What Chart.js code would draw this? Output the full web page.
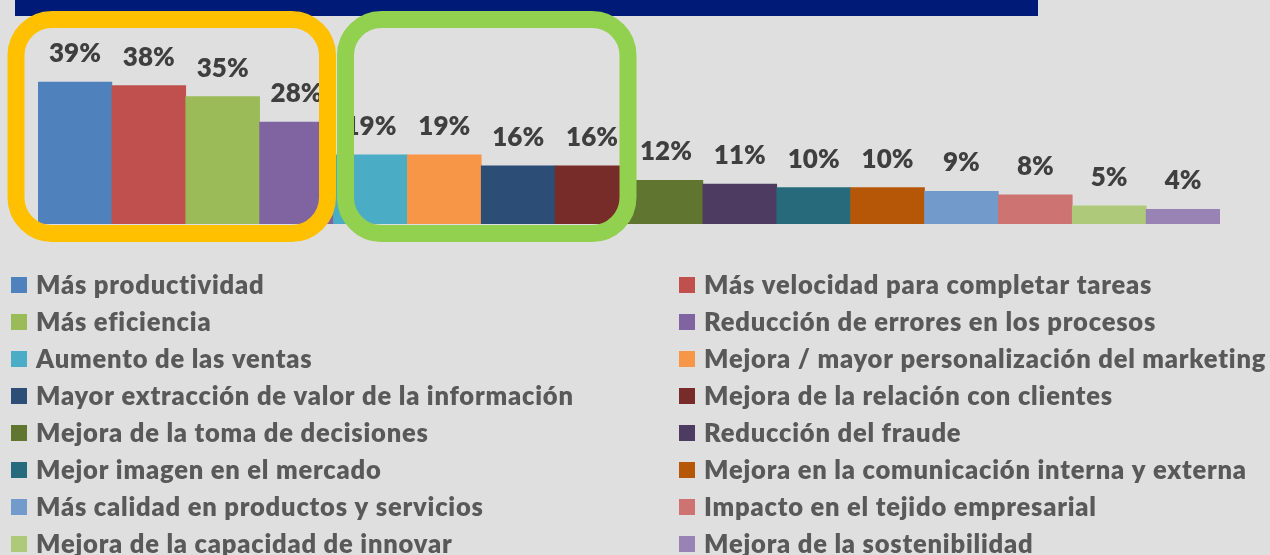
<!DOCTYPE html>
<html lang="es">
<head>
<meta charset="utf-8">
<title>Beneficios</title>
<script src="https://cdn.jsdelivr.net/npm/chart.js@4.4.1/dist/chart.umd.min.js"></script>
<style>
  html, body { margin: 0; padding: 0; background: #dfdfdf; }
  #wrap { position: relative; width: 1270px; height: 555px; overflow: hidden; }
  #titleBar { position: absolute; left: 15px; top: 0; width: 1023px; height: 16px; background: #001b77; }
  #wrap canvas { position: absolute; left: 0; top: 0; }
</style>
</head>
<body>
<div id="wrap">
  <div id="titleBar"></div>
  <canvas id="chart"></canvas>
</div>
<script>
const LABELS = [
  'Más productividad',
  'Más velocidad para completar tareas',
  'Más eficiencia',
  'Reducción de errores en los procesos',
  'Aumento de las ventas',
  'Mejora / mayor personalización del marketing',
  'Mayor extracción de valor de la información',
  'Mejora de la relación con clientes',
  'Mejora de la toma de decisiones',
  'Reducción del fraude',
  'Mejor imagen en el mercado',
  'Mejora en la comunicación interna y externa',
  'Más calidad en productos y servicios',
  'Impacto en el tejido empresarial',
  'Mejora de la capacidad de innovar',
  'Mejora de la sostenibilidad',
];

const VALUES = [39, 38, 35, 28, 19, 19, 16, 16, 12, 11, 10, 10, 9, 8, 5, 4];

const BAR_COLORS = [
  '#4f81bd', '#c0504d', '#9bbb59', '#8064a2',
  '#4bacc6', '#f79646', '#2c4d75', '#772c2a',
  '#5f7530', '#4d3b62', '#276a7c', '#b65708',
  '#729aca', '#cd7371', '#afc97a', '#9983b5',
];

// groups highlighted with rounded frames (first / last bar index)
const GROUPS = [
  { from: 0, to: 3, color: '#ffc000' },
  { from: 4, to: 7, color: '#92d050' },
];

const FONT = "Lato, 'Open Sans', sans-serif";

const valueLabels = {
  id: 'valueLabels',
  afterDatasetsDraw(chart) {
    const { ctx } = chart;
    const meta = chart.getDatasetMeta(0);
    ctx.save();
    ctx.fillStyle = '#3f3f3f';
    ctx.font = `800 26px ${FONT}`;
    ctx.textAlign = 'center';
    ctx.textBaseline = 'alphabetic';
    meta.data.forEach((bar, i) => {
      ctx.fillText(VALUES[i] + '%', bar.x, bar.y - 20);
    });
    ctx.restore();
  }
};

const groupFrames = {
  id: 'groupFrames',
  afterDatasetsDraw(chart) {
    const { ctx, chartArea } = chart;
    const meta = chart.getDatasetMeta(0);
    ctx.save();
    ctx.lineWidth = 17;
    GROUPS.forEach((g, k) => {
      const a = meta.data[g.from], b = meta.data[g.to];
      const left  = a.x - a.width / 2 + (k === 0 ? -22 : 12);
      const right = b.x + b.width / 2 + (k === 0 ? -6 : -1);
      const top = chartArea.top - 22.5;
      const bottom = chartArea.bottom + 9.5;
      ctx.strokeStyle = g.color;
      ctx.beginPath();
      ctx.roundRect(left, top, right - left, bottom - top, 36);
      ctx.stroke();
    });
    ctx.restore();
  }
};

const gridLegend = {
  id: 'gridLegend',
  afterDraw(chart) {
    const { ctx } = chart;
    const colX = [11, 679];
    const rowY0 = 285, rowH = 37;
    ctx.save();
    ctx.font = `800 25.5px ${FONT}`;
    if ('letterSpacing' in ctx) ctx.letterSpacing = '0.8px';
    ctx.textBaseline = 'middle';
    ctx.textAlign = 'left';
    LABELS.forEach((lab, i) => {
      const x = colX[i % 2];
      const y = rowY0 + Math.floor(i / 2) * rowH;
      ctx.fillStyle = BAR_COLORS[i];
      ctx.fillRect(x, y - 8, 16, 16);
      ctx.fillStyle = '#595959';
      ctx.fillText(lab, x + 25, y + 1);
    });
    ctx.restore();
  }
};

new Chart(document.getElementById('chart'), {
  type: 'bar',
  data: {
    labels: LABELS,
    datasets: [{
      data: VALUES,
      backgroundColor: BAR_COLORS,
      borderWidth: 0,
      barPercentage: 1,
      categoryPercentage: 1,
    }]
  },
  options: {
    responsive: true, maintainAspectRatio: false,
    animation: false,
    layout: { padding: { left: 38, right: 50, top: 42, bottom: 331 } },
    plugins: {
      legend: { display: false },
      tooltip: { enabled: false },
    },
    scales: {
      x: { display: false },
      y: { display: false, min: 0, max: 50 }
    }
  },
  plugins: [valueLabels, groupFrames, gridLegend]
});
</script>
</body>
</html>
